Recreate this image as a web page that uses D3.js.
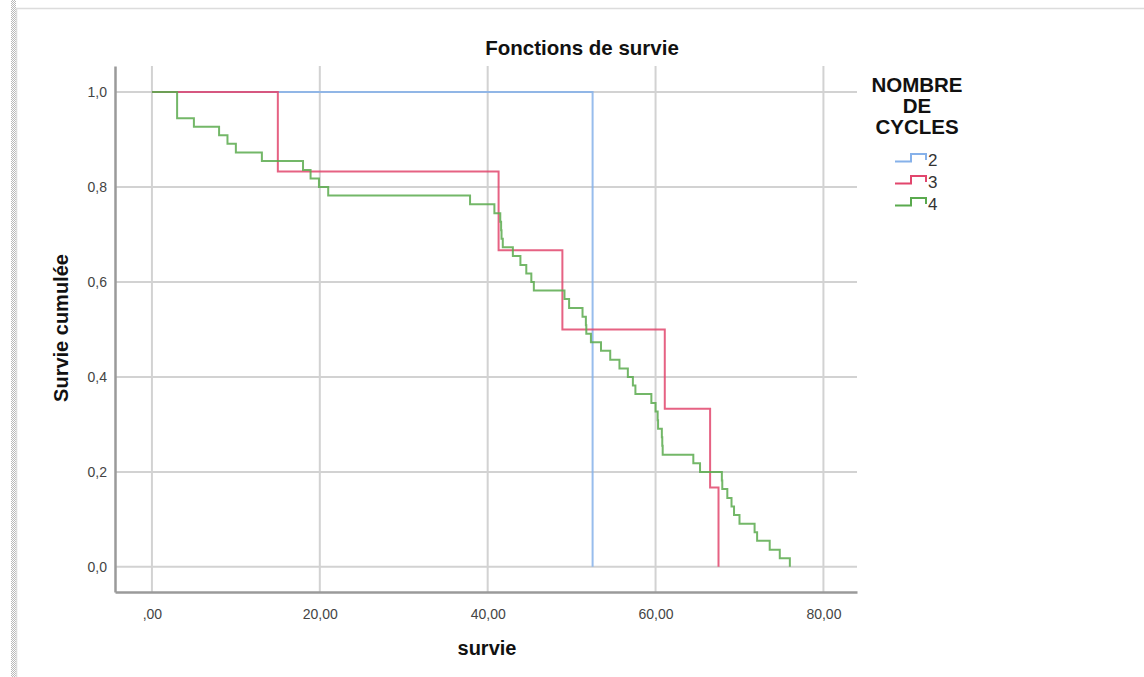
<!DOCTYPE html>
<html>
<head>
<meta charset="utf-8">
<script src="https://cdn.jsdelivr.net/npm/d3@7"></script>
<style>
  body { margin: 0; background: #fff; }
  svg { display: block; font-family: "Liberation Sans", Arial, sans-serif; }
</style>
</head>
<body>
<svg id="drawing_region"></svg>
<script>
// group labels (NOMBRE DE CYCLES)
const groups = [ '2', '3', '4' ];
const colors = [ '#86b1ea', '#e2466d', '#5aaa4e' ];

// event times (survie) and cumulative survival after each event, per group
const times2 = [ 0, 52.5 ];
const surv2  = [ 1, 0 ];

const times3 = [ 0, 15.0, 41.3, 48.9, 61.1, 66.5, 67.5 ];
const surv3  = [ 1, 0.833, 0.667, 0.5, 0.333, 0.167, 0 ];

const times4 = [ 0, 3.0, 5.0, 8.0, 9.0, 10.0, 13.1, 18.0, 18.9, 19.9, 21.0,
    37.9, 40.8, 41.5, 41.6, 41.65, 41.8, 43.0, 43.9, 44.6, 45.2, 45.5,
    49.15, 49.7, 51.3, 51.7, 51.75, 52.3, 53.5, 54.6, 55.7, 56.7, 57.3, 57.6,
    59.5, 60.0, 60.25, 60.3, 60.75, 60.8, 60.85, 64.5, 65.3,
    67.9, 67.95, 68.55, 69.05, 69.35, 70.0, 71.8, 72.1, 73.6, 74.8, 76.0 ];
const surv4  = [ 1, 0.945, 0.927, 0.909, 0.891, 0.873, 0.855, 0.836, 0.818, 0.800, 0.782,
    0.764, 0.745, 0.727, 0.709, 0.691, 0.673, 0.655, 0.636, 0.618, 0.600, 0.582,
    0.564, 0.545, 0.527, 0.509, 0.491, 0.473, 0.455, 0.436, 0.418, 0.400, 0.382, 0.364,
    0.345, 0.327, 0.309, 0.291, 0.273, 0.255, 0.236, 0.218, 0.200,
    0.182, 0.164, 0.145, 0.127, 0.109, 0.091, 0.073, 0.055, 0.036, 0.018, 0 ];

const xTicks = [ 0, 20, 40, 60, 80 ];
const xTickLabels = [ ',00', '20,00', '40,00', '60,00', '80,00' ];
const yTicks = [ 0, 0.2, 0.4, 0.6, 0.8, 1.0 ];
const yTickLabels = [ '0,0', '0,2', '0,4', '0,6', '0,8', '1,0' ];

const series = [
    { name: groups[0], color: colors[0], times: times2, surv: surv2 },
    { name: groups[1], color: colors[1], times: times3, surv: surv3 },
    { name: groups[2], color: colors[2], times: times4, surv: surv4 }
];

const W = 1144, H = 677;
const plot = { left: 115, right: 857, top: 66, bottom: 592 };

const svg = d3.select( '#drawing_region' )
    .attr( 'width', W )
    .attr( 'height', H );

// page frame
const defs = svg.append( 'defs' );
const pat = defs.append( 'pattern' )
    .attr( 'id', 'dots' )
    .attr( 'width', 2 ).attr( 'height', 2 )
    .attr( 'patternUnits', 'userSpaceOnUse' );
pat.append( 'rect' ).attr( 'width', 1 ).attr( 'height', 1 ).attr( 'fill', '#b8b8b8' );
pat.append( 'rect' ).attr( 'x', 1 ).attr( 'y', 1 ).attr( 'width', 1 ).attr( 'height', 1 ).attr( 'fill', '#b8b8b8' );
svg.append( 'rect' )
    .attr( 'x', 11 ).attr( 'y', 0 ).attr( 'width', 5 ).attr( 'height', H )
    .attr( 'fill', 'url(#dots)' );
svg.append( 'path' )
    .attr( 'd', `M16.5,${H} V8.5 H${W}` )
    .attr( 'fill', 'none' )
    .attr( 'stroke', '#dcdcdc' )
    .attr( 'stroke-width', 1.5 );

const xscale = d3.scaleLinear().domain( [ -4.4, 84.0 ] ).range( [ plot.left, plot.right ] );
const yscale = d3.scaleLinear().domain( [ -0.053, 1.055 ] ).range( [ plot.bottom, plot.top ] );

// grid
svg.append( 'g' ).selectAll( 'line' )
    .data( xTicks ).enter().append( 'line' )
    .attr( 'x1', d => xscale( d ) ).attr( 'x2', d => xscale( d ) )
    .attr( 'y1', plot.top ).attr( 'y2', plot.bottom )
    .attr( 'stroke', '#d2d2d2' ).attr( 'stroke-width', 2 );

svg.append( 'g' ).selectAll( 'line' )
    .data( yTicks ).enter().append( 'line' )
    .attr( 'x1', plot.left ).attr( 'x2', plot.right )
    .attr( 'y1', d => yscale( d ) ).attr( 'y2', d => yscale( d ) )
    .attr( 'stroke', '#d2d2d2' ).attr( 'stroke-width', 2 );

// axes
const xaxis = d3.axisBottom( xscale )
    .tickValues( xTicks )
    .tickFormat( ( d, i ) => xTickLabels[ i ] )
    .tickSize( 0 ).tickPadding( 17 );
const yaxis = d3.axisLeft( yscale )
    .tickValues( yTicks )
    .tickFormat( ( d, i ) => yTickLabels[ i ] )
    .tickSize( 0 ).tickPadding( 8 );

const xg = svg.append( 'g' )
    .attr( 'transform', `translate(0, ${plot.bottom})` )
    .call( xaxis );
const yg = svg.append( 'g' )
    .attr( 'transform', `translate(${plot.left}, 0)` )
    .call( yaxis );
[ xg, yg ].forEach( g => {
    g.select( '.domain' ).attr( 'stroke', '#9a9a9a' ).attr( 'stroke-width', 2.5 );
    g.selectAll( 'text' )
        .attr( 'fill', '#444' )
        .style( 'font-size', '14px' )
        .style( 'font-family', '"Liberation Sans", Arial, sans-serif' );
} );

// survival curves
const line = d3.line()
    .x( d => xscale( d[0] ) )
    .y( d => yscale( d[1] ) )
    .curve( d3.curveStepAfter );

svg.append( 'g' ).selectAll( 'path' )
    .data( series ).enter().append( 'path' )
    .attr( 'd', s => line( s.times.map( ( t, i ) => [ t, s.surv[ i ] ] ) ) )
    .attr( 'fill', 'none' )
    .attr( 'stroke', s => s.color )
    .attr( 'stroke-width', 2 )
    .attr( 'stroke-opacity', 0.85 );

// titles
svg.append( 'text' )
    .attr( 'x', 582 ).attr( 'y', 55 )
    .attr( 'text-anchor', 'middle' )
    .style( 'font-weight', 'bold' ).style( 'font-size', '20.5px' )
    .attr( 'fill', '#111' )
    .text( 'Fonctions de survie' );

svg.append( 'text' )
    .attr( 'x', 487 ).attr( 'y', 655 )
    .attr( 'text-anchor', 'middle' )
    .style( 'font-weight', 'bold' ).style( 'font-size', '20px' )
    .attr( 'fill', '#111' )
    .text( 'survie' );

svg.append( 'text' )
    .attr( 'transform', 'translate(68, 328) rotate(-90)' )
    .attr( 'text-anchor', 'middle' )
    .style( 'font-weight', 'bold' ).style( 'font-size', '20px' )
    .attr( 'fill', '#111' )
    .text( 'Survie cumulée' );

// legend
const legend = svg.append( 'g' );
legend.selectAll( 'text.lt' )
    .data( [ 'NOMBRE', 'DE', 'CYCLES' ] ).enter().append( 'text' )
    .attr( 'class', 'lt' )
    .attr( 'x', 917 ).attr( 'y', ( d, i ) => 92 + i * 21 )
    .attr( 'text-anchor', 'middle' )
    .style( 'font-weight', 'bold' ).style( 'font-size', '20.5px' )
    .attr( 'fill', '#111' )
    .text( d => d );

const items = legend.selectAll( 'g.item' )
    .data( series ).enter().append( 'g' )
    .attr( 'class', 'item' )
    .attr( 'transform', ( d, i ) => `translate(895, ${160 + i * 22})` );
items.append( 'path' )
    .attr( 'd', 'M0,1.5 H16 V-6 H31 V0' )
    .attr( 'fill', 'none' )
    .attr( 'stroke', d => d.color )
    .attr( 'stroke-width', 2 );
items.append( 'text' )
    .attr( 'x', 33 ).attr( 'y', 6 )
    .style( 'font-size', '17px' )
    .attr( 'fill', '#333' )
    .text( d => d.name );
</script>
</body>
</html>
